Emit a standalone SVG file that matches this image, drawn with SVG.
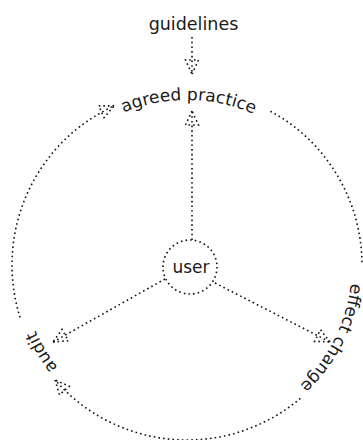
<svg xmlns="http://www.w3.org/2000/svg" xmlns:xlink="http://www.w3.org/1999/xlink" width="363" height="440" viewBox="0 0 363 440">
<style>
  .dot{fill:none;stroke:#111;stroke-width:1.6;stroke-dasharray:1.6 3.1}
  .lbl{font-family:"DejaVu Sans","Liberation Sans",sans-serif;font-size:17px;fill:#1a1a1a}
</style>
<defs>
  <marker id="ah" markerUnits="userSpaceOnUse" viewBox="-16 -9 18 18" markerWidth="18" markerHeight="18" refX="0" refY="0" orient="auto" overflow="visible">
    <path d="M0,0 L-14,-6.5 L-14,6.5 Z" fill="none" stroke="#111" stroke-width="1.6" stroke-dasharray="1.6 3"/>
  </marker>
  <path id="ring" d="M187,430 A165,165 0 1 1 187,100 A165,165 0 1 1 187,430"/>
</defs>
<rect width="363" height="440" fill="#fff"/>
<g id="connectors">
  <path class="dot" d="M192,37 L192,74" marker-end="url(#ah)"/>
  <path class="dot" d="M192,240 L192,111" marker-end="url(#ah)"/>
  <path class="dot" d="M165,279 L53,342" marker-end="url(#ah)"/>
  <path class="dot" d="M215,283 L330,342" marker-end="url(#ah)"/>
  <path class="dot" d="M300.4,398.3 A175,175 0 0 1 55.1,380" marker-end="url(#ah)"/>
  <path class="dot" d="M20.1,317.6 A175,175 0 0 1 114.1,105.9" marker-end="url(#ah)"/>
  <path class="dot" d="M270.5,111.2 A175,175 0 0 1 362,263.5"/>
</g>
<g id="guidelines">
  <text class="lbl" x="193.5" y="30" text-anchor="middle" style="font-size:17.5px">guidelines</text>
</g>
<g id="user">
  <circle class="dot" cx="190" cy="267" r="27"/>
  <text class="lbl" x="191" y="273" text-anchor="middle">user</text>
</g>
<g id="agreed-practice">
  <text class="lbl" text-anchor="middle"><textPath xlink:href="#ring" href="#ring" startOffset="520">agreed practice</textPath></text>
</g>
<g id="effect-change">
  <text class="lbl" text-anchor="middle"><textPath xlink:href="#ring" href="#ring" startOffset="854">effect change</textPath></text>
</g>
<g id="audit">
  <text class="lbl" text-anchor="middle"><textPath xlink:href="#ring" href="#ring" startOffset="170">audit</textPath></text>
</g>
</svg>
